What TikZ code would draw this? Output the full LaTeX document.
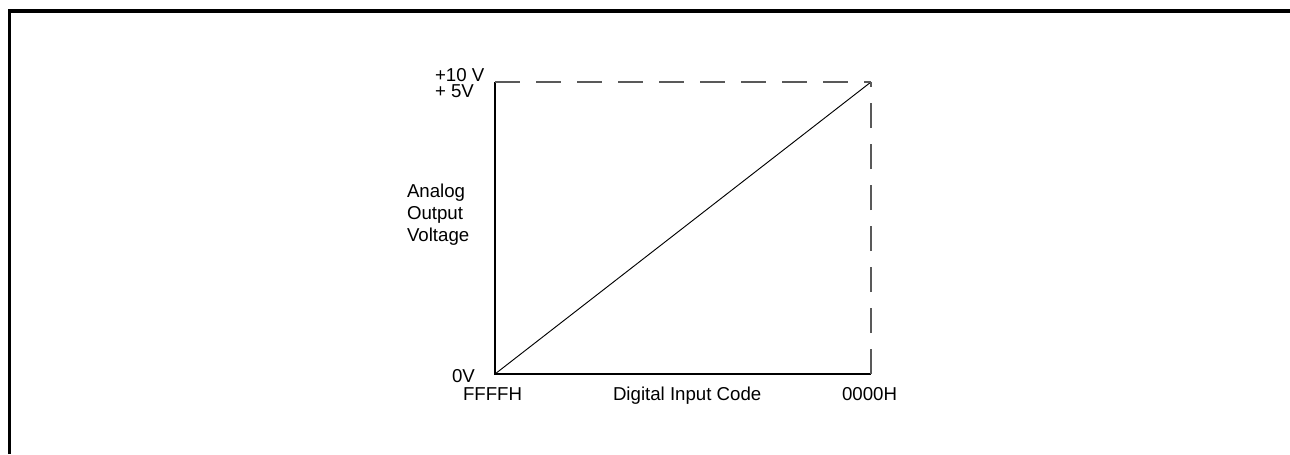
\documentclass[tikz,border=0pt]{standalone}
\usepackage{fontspec}
\setmainfont{Liberation Sans}
\begin{document}
\begin{tikzpicture}[x=0.75pt,y=-0.75pt,
  lbl/.style={inner sep=0pt,outer sep=0pt,anchor=base west,font=\fontsize{14pt}{16.5pt}\selectfont},
  axis/.style={line width=0.8pt,black},
  guide/.style={line width=0.8pt,black!65,dash pattern=on 18.75pt off 12pt}]
\useasboundingbox (0,0) rectangle (1290,454);
% frame
\draw[line width=2.4pt,line join=miter] (9.3,454) -- (9.3,11) -- (1290,11);
% plot corners
\coordinate (o) at (495,374);
\coordinate (tl) at (495,82);
\coordinate (tr) at (871,82);
\coordinate (br) at (871,374);
% axes and transfer line
\draw[axis] (tl) -- (o) -- (br);
\draw[axis,line width=0.7pt] (o) -- (tr);
% dashed full-scale guides
\draw[guide] (tl) -- (tr);
\draw[guide] (br) -- (tr);
% labels (multi-line nodes sit on the baseline of their last line)
\node[lbl,align=left,font=\fontsize{14pt}{12pt}\selectfont] (vfs) at (435,97) {+10 V\\+ 5V};
\node[lbl,align=left] (ylab) at (407,241) {Analog\\Output\\Voltage};
\node[lbl] (v0) at (452,382) {0V};
\node[lbl] (cf) at (463,400) {FFFFH};
\node[lbl] (xlab) at (613,400) {Digital Input Code};
\node[lbl] (c0) at (842,400) {0000H};
\end{tikzpicture}
\end{document}
